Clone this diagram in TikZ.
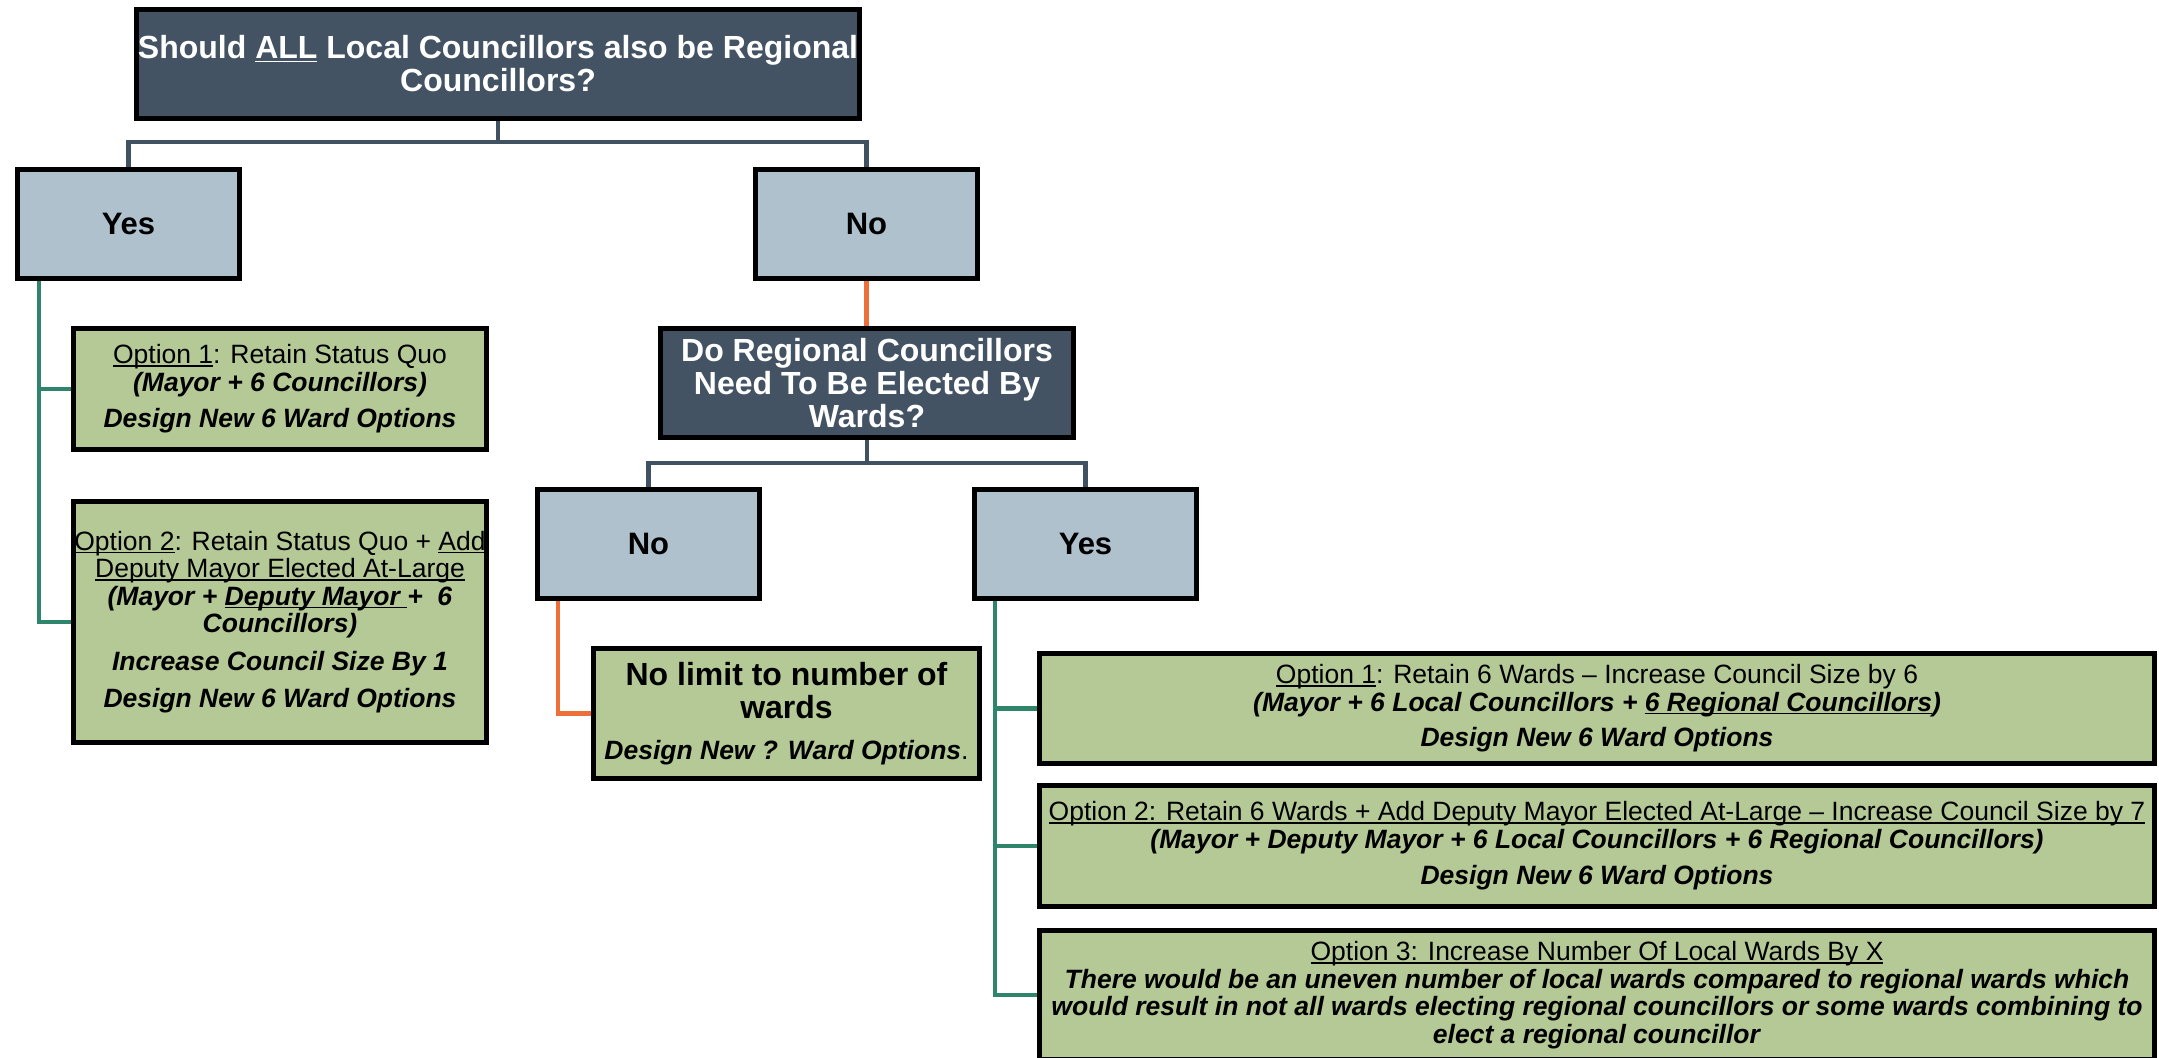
\documentclass[tikz,border=0pt]{standalone}
\usepackage{fontspec}
\setmainfont{Liberation Sans}
\newsavebox\ulbox
\newcommand\myul[1]{\sbox\ulbox{#1}\rlap{\rule[-0.11em]{\wd\ulbox}{0.055em}}\usebox\ulbox}
\definecolor{darkbox}{HTML}{435363}
\definecolor{lightbox}{HTML}{AFC1CD}
\definecolor{greenbox}{HTML}{B5C997}
\definecolor{slateline}{HTML}{405262}
\definecolor{greenline}{HTML}{2E856B}
\definecolor{orangeline}{HTML}{ED703A}
\begin{document}
\begin{tikzpicture}[x=1pt,y=-1pt,
  box/.style={draw=black, line width=5pt, inner sep=0pt, align=center},
  qbox/.style={box, fill=darkbox, text=white, font=\fontsize{32}{33}\selectfont\bfseries},
  ynbox/.style={box, fill=lightbox, minimum width=222pt, minimum height=109pt, font=\fontsize{31}{33}\selectfont\bfseries},
  optbox/.style={box, fill=greenbox, font=\fontsize{26.5}{27.5}\selectfont},
  slate/.style={draw=slateline, line width=4.5pt},
  gline/.style={draw=greenline, line width=4.5pt},
  oline/.style={draw=orangeline, line width=4.5pt}]
\useasboundingbox[fill=white] (0,0) rectangle (2159,1057);

\node[qbox, minimum width=723pt, minimum height=109pt] (q1) at (498,64)
  {Should \myul{ALL} Local Councillors also be Regional\\Councillors?};
\node[ynbox] (yes) at (128.5,223.5) {Yes};
\node[ynbox] (no) at (866.5,224) {No};

\node[optbox, minimum width=413pt, minimum height=121pt] (opt1L) at (280,389)
  {\myul{Option 1}: Retain Status Quo\\
   \textbf{\textit{(Mayor + 6 Councillors)}}\\[9pt]
   \textbf{\textit{Design New 6 Ward Options}}};
\node[optbox, minimum width=413pt, minimum height=241pt] (opt2L) at (280,622)
  {\myul{Option 2}: Retain Status Quo + \myul{Add}\\
   \myul{Deputy Mayor Elected At-Large}\\
   \textbf{\textit{(Mayor + \myul{Deputy Mayor\ }+\ \ 6}}\\
   \textbf{\textit{Councillors)}}\\[10pt]
   \textbf{\textit{Increase Council Size By 1}}\\[10pt]
   \textbf{\textit{Design New 6 Ward Options}}};

\node[qbox, minimum width=413pt, minimum height=109pt] (q2) at (867,383)
  {Do Regional Councillors\\Need To Be Elected By\\Wards?};
\node[ynbox] (no2) at (648.5,544) {No};
\node[ynbox] (yes2) at (1085.5,544) {Yes};

\node[optbox, minimum width=386pt, minimum height=130pt, font=\fontsize{32}{33}\selectfont\bfseries] (nolim) at (786.5,713.5)
  {No limit to number of\\wards\\[8pt]
   {\fontsize{26.5}{27.5}\selectfont\bfseries\itshape Design New ? Ward Options\mdseries\upshape.}};

\node[optbox, minimum width=1115pt, minimum height=110pt] (opt1R) at (1597,708.5)
  {\myul{Option 1}: Retain 6 Wards – Increase Council Size by 6\\
   \textbf{\textit{(Mayor + 6 Local Councillors + \myul{6 Regional Councillors})}}\\[8pt]
   \textbf{\textit{Design New 6 Ward Options}}};
\node[optbox, minimum width=1115pt, minimum height=121pt] (opt2R) at (1597,846)
  {\myul{Option 2: Retain 6 Wards + Add Deputy Mayor Elected At-Large – Increase Council Size by 7}\\
   \textbf{\textit{(Mayor + Deputy Mayor + 6 Local Councillors + 6 Regional Councillors)}}\\[9pt]
   \textbf{\textit{Design New 6 Ward Options}}};
\node[optbox, minimum width=1115pt, minimum height=129pt] (opt3R) at (1597,995)
  {\myul{Option 3: Increase Number Of Local Wards By X}\\
   \textbf{\textit{There would be an uneven number of local wards compared to regional wards which}}\\
   \textbf{\textit{would result in not all wards electing regional councillors or some wards combining to}}\\
   \textbf{\textit{elect a regional councillor}}};

% connectors
\coordinate (j1) at (498,142);
\draw[slate] (q1.south) -- (j1);
\draw[slate] (yes.north) |- (j1) -| (no.north);
\draw[gline] ([xshift=24pt]yes.south west) |- (opt1L.west);
\draw[gline] ([xshift=24pt]yes.south west) |- (opt2L.west);
\draw[oline] (no.south) -- (no.south |- q2.north);

\coordinate (j2) at (867,463);
\draw[slate] (q2.south) -- (j2);
\draw[slate] (no2.north) |- (j2) -| (yes2.north);
\draw[oline] ([xshift=23pt]no2.south west) |- (nolim.west);
\draw[gline] ([xshift=23pt]yes2.south west) |- (opt1R.west);
\draw[gline] ([xshift=23pt]yes2.south west) |- (opt2R.west);
\draw[gline] ([xshift=23pt]yes2.south west) |- (opt3R.west);
\end{tikzpicture}
\end{document}
